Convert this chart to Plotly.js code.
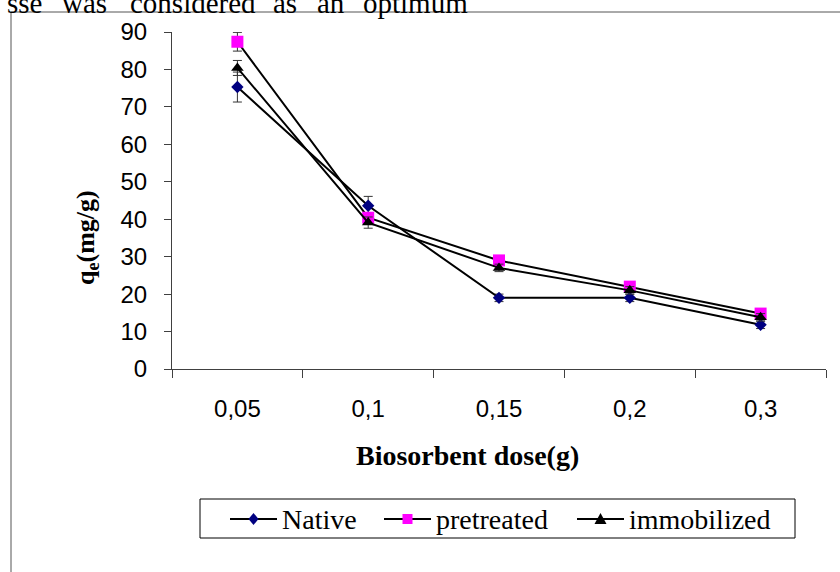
<!DOCTYPE html>
<html>
<head>
<meta charset="utf-8">
<script src="https://cdn.plot.ly/plotly-3.0.1.min.js"></script>
<style>
  html, body { margin: 0; padding: 0; background: #ffffff; }
  #chart { width: 840px; height: 572px; }
</style>
</head>
<body>
<div id="chart"></div>
<script>
// ---- data ----
const doses = ['0,05', '0,1', '0,15', '0,2', '0,3'];
const nativeQe = [75.3, 43.6, 19.0, 19.0, 11.8];
const nativeErr = [4.0, 2.5, 1.0, 1.0, 1.0];
const pretreatedQe = [87.4, 40.4, 29.0, 22.0, 14.8];
const pretreatedErr = [2.5, 1.2, 1.0, 1.0, 1.0];
const immobilizedQe = [80.4, 39.1, 27.0, 21.0, 13.8];
const immobilizedErr = [2.0, 1.5, 1.0, 1.0, 1.0];
const yTicks = [0, 10, 20, 30, 40, 50, 60, 70, 80, 90];
const seriesNames = ['Native', 'pretreated', 'immobilized'];
const seriesColors = ['#000080', '#FF00FF', '#000000'];
const headerWords = ['sse', 'was', 'considered', 'as', 'an', 'optimum'];

// ---- geometry (pixels) ----
const W = 840, H = 572;
const L = 172, R = 826, T = 32, B = 369;
const pw = R - L, ph = B - T;
const px = x => (x - L) / pw;
const py = y => (B - y) / ph;

const serif = 'Liberation Serif, Times New Roman, serif';
const sans = 'Liberation Sans, Arial, sans-serif';

function series(i, y, err, symbol, size) {
  return {
    type: 'scatter', mode: 'lines+markers', name: seriesNames[i],
    x: doses, y: y,
    line: { color: '#000000', width: 2 },
    marker: { symbol: symbol, size: size, color: seriesColors[i], line: { width: 0 } },
    error_y: { type: 'data', array: err, visible: true, color: '#333333', thickness: 1, width: 4.5 },
    cliponaxis: false, showlegend: false
  };
}

const data = [
  series(0, nativeQe, nativeErr, 'diamond', 9.5),
  series(1, pretreatedQe, pretreatedErr, 'square', 12),
  series(2, immobilizedQe, immobilizedErr, 'triangle-up', 11)
];

// ---- legend drawn as a boxed key ----
const legBox = { x0: 200, x1: 795, y0: 499, y1: 538 };
const legY = 519;
const legLineStart = [230, 384, 577];
const legLineLen = 47;

function pathFromPixels(pts) {
  return 'M' + pts.map(p => px(p[0]) + ',' + py(p[1])).join('L') + 'Z';
}

const shapes = [
  {
    type: 'rect', xref: 'paper', yref: 'paper', layer: 'below',
    x0: px(11), x1: px(870), y0: py(620), y1: py(12),
    line: { color: '#555555', width: 1 }, fillcolor: 'rgba(0,0,0,0)'
  },
  {
    type: 'rect', xref: 'paper', yref: 'paper', layer: 'above',
    x0: px(legBox.x0), x1: px(legBox.x1), y0: py(legBox.y1), y1: py(legBox.y0),
    line: { color: '#000000', width: 1 }, fillcolor: '#ffffff'
  }
];
const annotations = [];

legLineStart.forEach((x0, i) => {
  shapes.push({
    type: 'line', xref: 'paper', yref: 'paper', layer: 'above',
    x0: px(x0), x1: px(x0 + legLineLen), y0: py(legY), y1: py(legY),
    line: { color: '#000000', width: 2 }
  });
  const cx = x0 + legLineLen / 2;
  let pts;
  if (i === 0) pts = [[cx, legY - 6], [cx + 5, legY], [cx, legY + 6], [cx - 5, legY]];
  else if (i === 1) pts = [[cx - 5, legY - 5], [cx + 5, legY - 5], [cx + 5, legY + 5], [cx - 5, legY + 5]];
  else pts = [[cx, legY - 6], [cx + 6, legY + 5], [cx - 6, legY + 5]];
  shapes.push({
    type: 'path', xref: 'paper', yref: 'paper', layer: 'above',
    path: pathFromPixels(pts), fillcolor: seriesColors[i], line: { width: 0 }
  });
  annotations.push({
    text: seriesNames[i], xref: 'paper', yref: 'paper',
    x: px(x0 + legLineLen + 4), y: py(legY), xanchor: 'left', yanchor: 'middle',
    showarrow: false, borderpad: 0,
    font: { family: serif, size: 28, color: '#000000' }
  });
});

// axis titles
annotations.push({
  text: '<b>q<sub>e</sub>(mg/g)</b>', textangle: -90,
  xref: 'paper', yref: 'paper', x: px(87), y: py(238),
  xanchor: 'center', yanchor: 'middle', showarrow: false,
  font: { family: serif, size: 26, color: '#000000' }
});
annotations.push({
  text: '<b>Biosorbent dose(g)</b>',
  xref: 'paper', yref: 'paper', x: px(467), y: py(455),
  xanchor: 'center', yanchor: 'middle', showarrow: false,
  font: { family: serif, size: 28, color: '#000000' }
});

// cropped text line from the surrounding document
const headerX = [6, 61, 129, 272, 316, 362];
headerWords.forEach((w, i) => {
  annotations.push({
    text: w, xref: 'paper', yref: 'paper', x: px(headerX[i]), y: py(20),
    xanchor: 'left', yanchor: 'bottom', showarrow: false, borderpad: 0,
    font: { family: serif, size: 29, color: '#000000' }
  });
});

const layout = {
  width: W, height: H,
  margin: { l: L, r: W - R, t: T, b: H - B, pad: 0 },
  paper_bgcolor: '#ffffff', plot_bgcolor: '#ffffff',
  showlegend: false,
  xaxis: {
    type: 'category', range: [-0.5, 4.5], tickson: 'boundaries',
    ticks: 'outside', ticklen: 8, tickcolor: '#404040', tickwidth: 1,
    showline: true, linecolor: '#404040', linewidth: 1,
    showgrid: false, zeroline: false,
    tickfont: { family: sans, size: 24, color: '#000000' },
    ticklabelstandoff: 18
  },
  yaxis: {
    range: [0, 90], tickvals: yTicks, ticktext: yTicks.map(String),
    ticks: 'outside', ticklen: 7, tickcolor: '#404040', tickwidth: 1,
    showline: true, linecolor: '#404040', linewidth: 1,
    showgrid: false, zeroline: false,
    tickfont: { family: sans, size: 24, color: '#000000' },
    ticklabelstandoff: 12
  },
  annotations: annotations,
  shapes: shapes
};

Plotly.newPlot('chart', data, layout, { staticPlot: true, displayModeBar: false });
</script>
</body>
</html>
